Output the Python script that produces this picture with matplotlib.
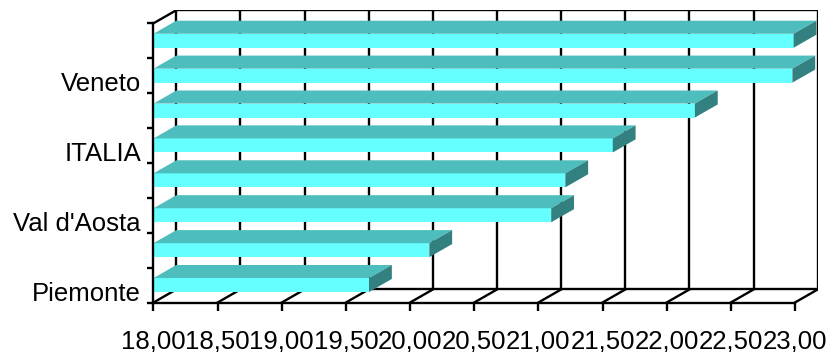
import matplotlib
matplotlib.use("Agg")
import matplotlib.pyplot as plt
from matplotlib.patches import Polygon
from matplotlib.transforms import ScaledTranslation
import numpy as np

# Data
categories = ["Piemonte", "", "Val d'Aosta", "", "ITALIA", "", "Veneto", ""]
values = [19.68, 20.15, 21.10, 21.21, 21.58, 22.22, 22.98, 22.99]
x_ticks = [18.0, 18.5, 19.0, 19.5, 20.0, 20.5, 21.0, 21.5, 22.0, 22.5, 23.0]
x_tick_labels = ["18,00", "18,50", "19,00", "19,50", "20,00", "20,50",
                 "21,00", "21,50", "22,00", "22,50", "23,00"]

# Styling
FRONT = "#66FFFF"
TOP = "#4DBDBD"
SIDE = "#338080"
XMIN, XMAX = 18.0, 23.0
DX = 0.178      # depth offset along x (data units)
DY = 0.375      # depth offset along y (category units)
BAR_H = 0.4
LW = 1.7
FS = 18.5

plt.rcParams["font.family"] = ["Liberation Sans", "DejaVu Sans"]

fig = plt.figure(figsize=(8.36, 3.52), dpi=100)
ax = fig.add_axes([0.1836, 0.1406, 0.7946, 0.8304])
n = len(categories)
ax.set_xlim(XMIN, XMAX + DX)
ax.set_ylim(-0.5, n - 0.5 + DY)

# Box: back wall gridlines, floor lines and outline
y0, y1 = -0.5, n - 0.5
for t in x_ticks:
    ax.plot([t + DX, t + DX], [y0 + DY, y1 + DY], color="black", lw=LW, zorder=1,
            solid_capstyle="butt")
    ax.plot([t, t + DX], [y0, y0 + DY], color="black", lw=LW, zorder=1)
ax.plot([XMIN + DX, XMAX + DX], [y0 + DY, y0 + DY], color="black", lw=LW, zorder=1)
ax.plot([XMIN + DX, XMAX + DX], [y1 + DY, y1 + DY], color="black", lw=LW, zorder=1)
ax.plot([XMIN, XMIN + DX], [y1, y1 + DY], color="black", lw=LW, zorder=1)

# Bars: front faces via barh, then top and side faces
ypos = np.arange(n)
ax.barh(ypos, [v - XMIN for v in values], left=XMIN, height=BAR_H,
        color=FRONT, edgecolor="none", zorder=3)
for y, v in zip(ypos, values):
    top = y + BAR_H / 2
    bot = y - BAR_H / 2
    ax.add_patch(Polygon([[XMIN, top], [v, top], [v + DX, top + DY], [XMIN + DX, top + DY]],
                         closed=True, facecolor=TOP, edgecolor="none", zorder=3))
    ax.add_patch(Polygon([[v, bot], [v, top], [v + DX, top + DY], [v + DX, bot + DY]],
                         closed=True, facecolor=SIDE, edgecolor="none", zorder=3))

# Axes spines (front left and front bottom)
for s in ["top", "right"]:
    ax.spines[s].set_visible(False)
ax.spines["left"].set_bounds(y0, y1)
ax.spines["bottom"].set_bounds(XMIN, XMAX)
ax.spines["left"].set_linewidth(LW)
ax.spines["bottom"].set_linewidth(LW)
ax.spines["left"].set_zorder(5)
ax.spines["bottom"].set_zorder(5)

ax.set_xticks(x_ticks)
ax.set_xticklabels(x_tick_labels, fontsize=FS)
ax.tick_params(axis="x", direction="out", length=5.5, width=LW, pad=14)

ax.set_yticks(np.arange(-0.5, n, 1.0))
ax.set_yticklabels([])
ax.tick_params(axis="y", which="major", direction="out", length=4.5, width=LW)
ax.set_yticks(ypos, minor=True)
ax.set_yticklabels(categories, minor=True, fontsize=FS)
ax.tick_params(axis="y", which="minor", length=0, pad=9)
shift = ScaledTranslation(0, -6 / 100, fig.dpi_scale_trans)
for lab in ax.get_yticklabels(minor=True):
    lab.set_transform(lab.get_transform() + shift)

fig.savefig("out.png", dpi=100)
